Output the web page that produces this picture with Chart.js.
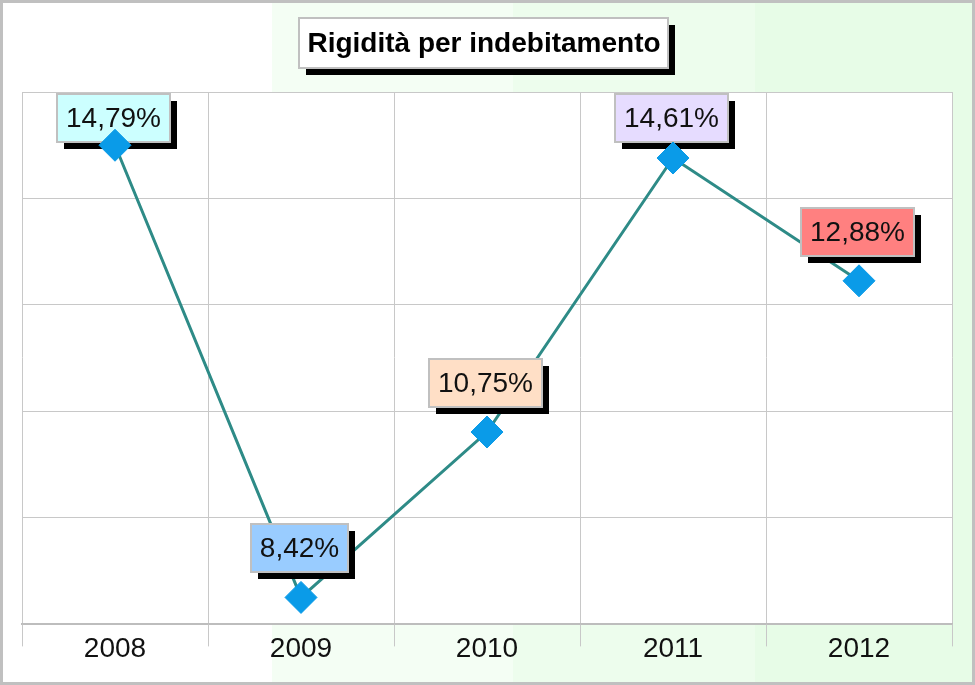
<!DOCTYPE html>
<html>
<head>
<meta charset="utf-8">
<script src="https://cdn.jsdelivr.net/npm/chart.js@4.4.1/dist/chart.umd.min.js"></script>
<style>
  html, body { margin: 0; padding: 0; background: #fff; }
  #wrap { width: 975px; height: 685px; }
</style>
</head>
<body>
<div id="wrap"><canvas id="rigChart" width="975" height="685"></canvas></div>
<script>
// dati
const anni = ['2008', '2009', '2010', '2011', '2012'];
const rigidita = [14.79, 8.42, 10.75, 14.61, 12.88];
const etichette = ['14,79%', '8,42%', '10,75%', '14,61%', '12,88%'];
const titolo = 'Rigidità per indebitamento';

// scala verticale (senza etichette)
const yMin = 8.04;
const yStep = 1.5;
const yCount = 5;

const coloriEtichette = ['#ccffff', '#99ccff', '#ffdfc6', '#e6dcff', '#ff8080'];
const FONT = '"Liberation Sans", Arial, sans-serif';

// sfondo a bande, area del grafico bianca, bordo esterno
const sfondo = {
  id: 'sfondo',
  beforeDraw(chart) {
    const { ctx, width, height, chartArea } = chart;
    const bande = [[0, 272, '#ffffff'], [272, 513, '#f4fef4'], [513, 755, '#edfded'], [755, width, '#e7fce7']];
    ctx.save();
    bande.forEach(([x0, x1, c]) => {
      ctx.fillStyle = c;
      ctx.fillRect(x0, 0, x1 - x0, height);
    });
    ctx.fillStyle = '#ffffff';
    ctx.fillRect(chartArea.left, chartArea.top, chartArea.right - chartArea.left, chartArea.bottom - chartArea.top);
    ctx.restore();
  },
  afterDraw(chart) {
    const { ctx, width, height, chartArea } = chart;
    const x = chart.scales.x;
    ctx.save();
    // tacche dell'asse x tra le categorie
    ctx.strokeStyle = '#c8c8c8';
    ctx.lineWidth = 1;
    for (let i = 0; i <= anni.length; i++) {
      const px = Math.round(x.getPixelForValue(i - 0.5)) + 0.5;
      ctx.beginPath();
      ctx.moveTo(px, chartArea.bottom);
      ctx.lineTo(px, chartArea.bottom + 22);
      ctx.stroke();
    }
    // titolo con ombra
    ctx.font = 'bold 28px ' + FONT;
    const tw = ctx.measureText(titolo).width;
    const cx = (chartArea.left + chartArea.right) / 2 - 3;
    const bx = Math.round(cx - tw / 2 - 8), by = 18, bw = Math.round(tw + 16), bh = 50;
    ctx.fillStyle = '#000';
    ctx.fillRect(bx + 7, by + 7, bw, bh);
    ctx.fillStyle = '#fff';
    ctx.fillRect(bx, by, bw, bh);
    ctx.strokeStyle = '#c0c0c0';
    ctx.lineWidth = 2;
    ctx.strokeRect(bx, by, bw, bh);
    ctx.fillStyle = '#000';
    ctx.textAlign = 'center';
    ctx.textBaseline = 'middle';
    ctx.fillText(titolo, cx, by + bh / 2 + 1);
    // bordo esterno
    ctx.strokeStyle = '#c0c0c0';
    ctx.lineWidth = 3;
    ctx.strokeRect(1.5, 1.5, width - 3, height - 3);
    ctx.restore();
  }
};

// etichette dei valori: dopo la linea, prima dei marcatori
const etichetteValori = {
  id: 'etichetteValori',
  afterDatasetDraw(chart, args) {
    if (args.index !== 1) return;
    const { ctx, chartArea } = chart;
    const punti = chart.getDatasetMeta(1).data;
    ctx.save();
    ctx.font = '28px ' + FONT;
    ctx.textAlign = 'center';
    ctx.textBaseline = 'middle';
    punti.forEach((p, i) => {
      const testo = etichette[i];
      const w = Math.round(ctx.measureText(testo).width + 18);
      const h = 48;
      const x = Math.round(p.x - 2 - w / 2);
      let y = Math.round(p.y - 25 - h);
      if (y < chartArea.top + 2) y = chartArea.top + 2;
      ctx.fillStyle = '#000';
      ctx.fillRect(x + 7, y + 7, w, h);
      ctx.fillStyle = coloriEtichette[i];
      ctx.fillRect(x, y, w, h);
      ctx.strokeStyle = '#c0c0c0';
      ctx.lineWidth = 2;
      ctx.strokeRect(x, y, w, h);
      ctx.fillStyle = '#111';
      ctx.fillText(testo, x + w / 2, y + h / 2 + 1);
    });
    ctx.restore();
  }
};

const ctx = document.getElementById('rigChart').getContext('2d');
new Chart(ctx, {
  type: 'line',
  data: {
    labels: anni,
    datasets: [
      {
        // marcatori (disegnati per ultimi)
        data: rigidita,
        showLine: false,
        pointStyle: 'rectRot',
        pointRadius: 16,
        pointBackgroundColor: '#0a9be8',
        pointBorderColor: '#0a9be8',
        pointBorderWidth: 1
      },
      {
        // linea
        data: rigidita,
        borderColor: '#2e8b87',
        borderWidth: 3,
        tension: 0,
        pointRadius: 0,
        fill: false
      }
    ]
  },
  options: {
    responsive: false,
    animation: false,
    events: [],
    layout: { padding: { left: 22, right: 23, top: 92, bottom: 11 } },
    plugins: {
      legend: { display: false },
      tooltip: { enabled: false },
      title: { display: false }
    },
    scales: {
      x: {
        offset: true,
        grid: { offset: true, color: '#c8c8c8', lineWidth: 1, drawTicks: false },
        border: { display: true, color: '#bdbdbd', width: 2 },
        ticks: { color: '#111', padding: 8, font: { family: FONT, size: 28 } }
      },
      y: {
        min: yMin,
        max: yMin + yStep * yCount,
        afterBuildTicks(scale) {
          scale.ticks = Array.from({ length: yCount + 1 }, (_, i) => ({ value: yMin + i * yStep }));
        },
        grid: { color: '#c8c8c8', lineWidth: 1, drawTicks: false },
        border: { display: false },
        ticks: { display: false }
      }
    }
  },
  plugins: [sfondo, etichetteValori]
});
</script>
</body>
</html>
